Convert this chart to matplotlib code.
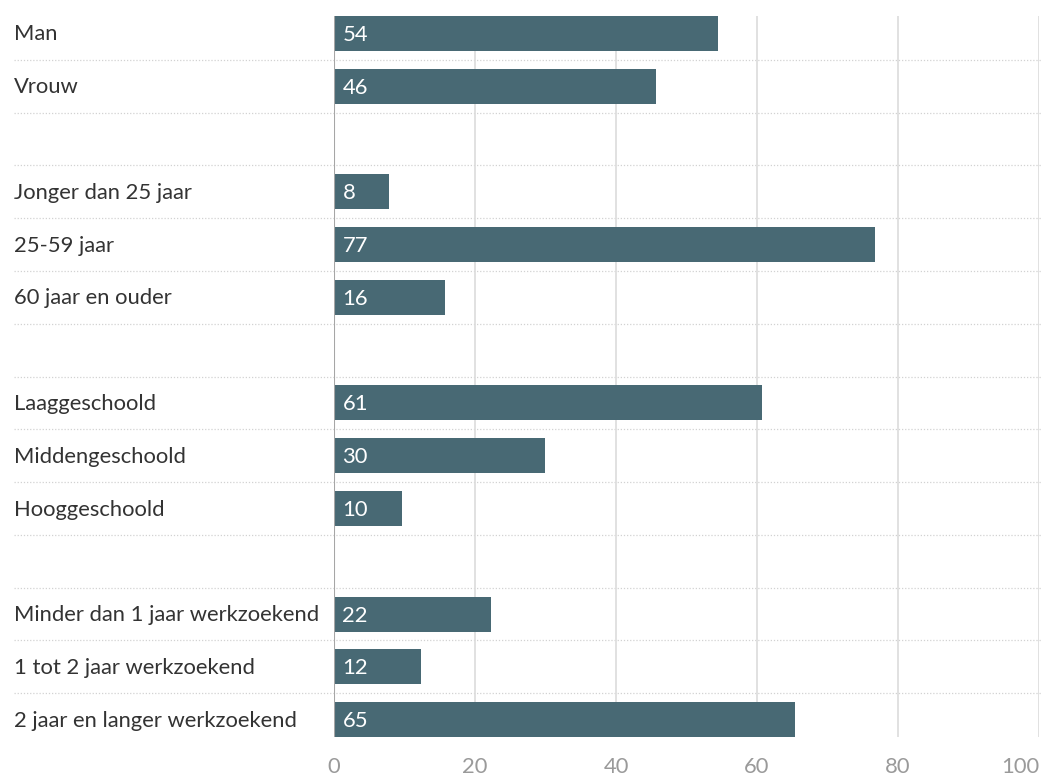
import matplotlib
matplotlib.use("Agg")
import matplotlib.pyplot as plt
from matplotlib.transforms import blended_transform_factory

categories = ["Man", "Vrouw", "",
              "Jonger dan 25 jaar", "25-59 jaar", "60 jaar en ouder", "",
              "Laaggeschoold", "Middengeschoold", "Hooggeschoold", "",
              "Minder dan 1 jaar werkzoekend", "1 tot 2 jaar werkzoekend",
              "2 jaar en langer werkzoekend"]
values = [54.4, 45.7, None,
          7.8, 76.7, 15.7, None,
          60.7, 29.9, 9.6, None,
          22.3, 12.4, 65.4]
xticks = [0, 20, 40, 60, 80, 100]

BAR = "#486974"
plt.rcParams['font.family'] = ['Lato', 'DejaVu Sans']
FS = 15.8

W, H = 1041, 776
fig = plt.figure(figsize=(W / 100, H / 100), dpi=100)
ax = fig.add_axes([334 / W, 1 - 746 / H, (1039 - 334) / W, (746 - 7) / H])

n = len(categories)
bh = 0.663
ax.set_xlim(0, 100)
ax.set_ylim(n - 0.5, -0.5)

# vertical gridlines
ax.vlines(xticks[1:], -bh / 2, n - 1 + bh / 2, colors="#dcdcdc", linewidth=1.2, zorder=1)

for i, (c, v) in enumerate(zip(categories, values)):
    if v is None:
        continue
    ax.barh(i, v, height=bh, color=BAR, zorder=3)
    ax.text(1.2, i + 0.03, f"{v:.0f}", color="white", fontsize=FS, va="center", ha="left", zorder=4)

# axis line at 0
ax.vlines(0, -bh / 2, n - 1 + bh / 2, colors="#a6a6a6", linewidth=1.5, zorder=5)

tr = blended_transform_factory(fig.transFigure, ax.transData)
for i in range(n - 1):
    ax.plot([14 / W, 1.0], [i + 0.5, i + 0.5], transform=tr, color="#d2d2d2",
            linewidth=0.9, linestyle=(0, (1, 1.5)), clip_on=False, zorder=0)
for i, c in enumerate(categories):
    if c:
        ax.text(14 / W, i + 0.02, c, transform=tr, fontsize=FS, color="#333333",
                va="center", ha="left")

for s in ax.spines.values():
    s.set_visible(False)
ax.set_yticks([])
ax.set_xticks(xticks)
ax.set_xticklabels([str(t) for t in xticks])
ax.tick_params(axis="x", length=0, pad=8, labelsize=FS, labelcolor="#9a9a9a")
labs = ax.get_xticklabels()
labs[-1].set_horizontalalignment("right")

fig.savefig("out.png", dpi=100)
